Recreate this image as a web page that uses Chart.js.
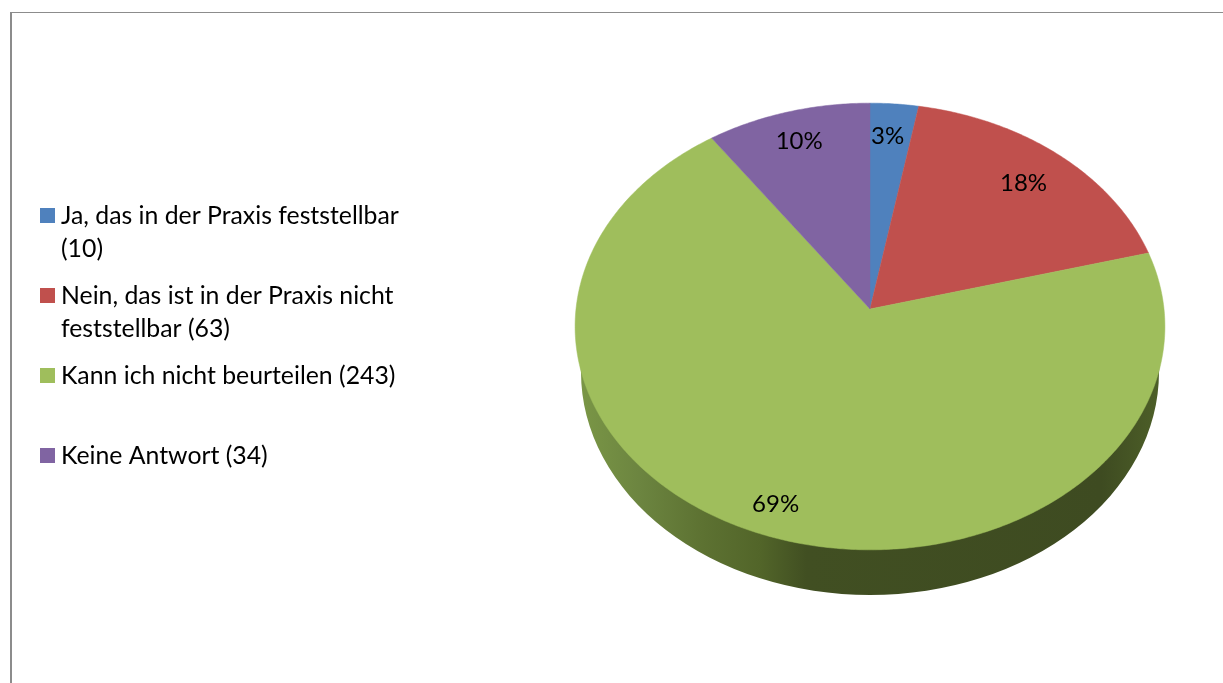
<!DOCTYPE html>
<html>
<head>
<meta charset="utf-8">
<title>Praxis</title>
<script src="https://cdn.jsdelivr.net/npm/chart.js@4"></script>
<style>
  html, body { margin: 0; padding: 0; background: #fff; overflow: hidden; }
  #frame { position: absolute; left: 10px; top: 12px; width: 1213px; height: 671px; box-sizing: border-box; border-left: 2px solid #8c8c8c; border-top: 1px solid #8c8c8c; }
  canvas { position: absolute; left: 0; top: 0; }
</style>
</head>
<body>
<div id="frame"></div>
<canvas id="pieChart" width="1223" height="683"></canvas>
<script>
var categories = ['Ja, das in der Praxis feststellbar (10)', 'Nein, das ist in der Praxis nicht feststellbar (63)', 'Kann ich nicht beurteilen (243)', 'Keine Antwort (34)'];
var legendLines = [['Ja, das in der Praxis feststellbar', '(10)'], ['Nein, das ist in der Praxis nicht', 'feststellbar (63)'], ['Kann ich nicht beurteilen (243)'], ['Keine Antwort (34)']];
var counts = [10, 63, 243, 34];
var colors = ['#4f81bd', '#c0504d', '#9fbe5c', '#8064a2'];
var labelRadius = [0.83, 0.806, 0.876, 0.84];
var labelNudge = [-3, 0, 0, -1];

// the pie is tilted: squash is the height/width of the top face, tilt moves the centre up
var squash = 0.755, tilt = 0.0783, wallDrop = 63;
var fontName = 'Lato, "Open Sans", sans-serif';

// from a point of the flat pie to the tilted one
function project(arc, angle, r) {
    var u = Math.cos(angle) * r, v = -Math.sin(angle) * r;
    var w = 1 + tilt * v;
    return {
        x: arc.x + arc.outerRadius * u / w,
        y: arc.y - arc.outerRadius * squash * v / w
    };
}

function drawWall(ctx, arc) {
    var r = arc.outerRadius;
    var midY = arc.y + wallDrop, rx = r - 5, ry = r * squash + 1;
    var grad = ctx.createLinearGradient(arc.x - rx, 0, arc.x + rx, 0);
    grad.addColorStop(0, '#7a9646');
    grad.addColorStop(0.1, '#6c8540');
    grad.addColorStop(0.21, '#5d7232');
    grad.addColorStop(0.31, '#526529');
    grad.addColorStop(0.39, '#414f22');
    grad.addColorStop(0.9, '#3e4b21');
    grad.addColorStop(1, '#4d5f28');
    ctx.save();
    ctx.fillStyle = grad;
    ctx.beginPath();
    ctx.moveTo(arc.x - r + 1, arc.y + 17);
    ctx.lineTo(arc.x - rx, midY);
    ctx.ellipse(arc.x, midY, rx, ry, 0, Math.PI, 0, true);
    ctx.lineTo(arc.x + r - 1, arc.y + 17);
    ctx.closePath();
    ctx.fill();
    ctx.restore();
}

function drawSlice(ctx, arc, color) {
    var steps = Math.ceil((arc.endAngle - arc.startAngle) / 0.01);
    ctx.fillStyle = color;
    ctx.strokeStyle = color;
    ctx.lineWidth = 0.5;
    ctx.beginPath();
    ctx.moveTo(arc.x, arc.y);
    for (var i = 0; i <= steps; i++) {
        var p = project(arc, arc.startAngle + (arc.endAngle - arc.startAngle) * i / steps, 1);
        ctx.lineTo(p.x, p.y);
    }
    ctx.closePath();
    ctx.fill();
    ctx.stroke();
}

var tiltedPie = {
    id: 'tiltedPie',
    beforeDatasetDraw: function (chart, args) {
        var ctx = chart.ctx, arcs = args.meta.data;
        var total = counts.reduce(function (a, b) { return a + b; }, 0);
        drawWall(ctx, arcs[0]);
        arcs.forEach(function (arc, i) {
            drawSlice(ctx, arc, colors[i]);
        });
        ctx.fillStyle = '#000';
        ctx.font = '24px ' + fontName;
        ctx.textAlign = 'center';
        ctx.textBaseline = 'middle';
        arcs.forEach(function (arc, i) {
            var p = project(arc, (arc.startAngle + arc.endAngle) / 2, labelRadius[i]);
            ctx.fillText(Math.round(counts[i] / total * 100) + '%', p.x + labelNudge[i], p.y);
        });
        return false;
    }
};

// legend with equal row distance, whatever the number of text lines
var sideLegend = {
    id: 'sideLegend',
    afterDraw: function (chart) {
        var ctx = chart.ctx;
        ctx.save();
        ctx.font = '24.8px ' + fontName;
        ctx.textAlign = 'left';
        ctx.textBaseline = 'alphabetic';
        legendLines.forEach(function (lines, i) {
            var y = 224 + i * 80;
            ctx.fillStyle = colors[i];
            ctx.fillRect(40, y - 16, 15, 15);
            ctx.fillStyle = '#000';
            lines.forEach(function (line, j) {
                ctx.fillText(line, 61, y + j * 33);
            });
        });
        ctx.restore();
    }
};

new Chart(document.getElementById('pieChart').getContext('2d'), {
    type: 'pie',
    data: {
        labels: categories,
        datasets: [{ data: counts, backgroundColor: colors, borderWidth: 0 }]
    },
    options: {
        responsive: false,
        animation: false,
        layout: { padding: { left: 576, right: 59, top: 15, bottom: 80 } },
        plugins: { legend: { display: false }, tooltip: { enabled: false } }
    },
    plugins: [tiltedPie, sideLegend]
});
</script>
</body>
</html>
